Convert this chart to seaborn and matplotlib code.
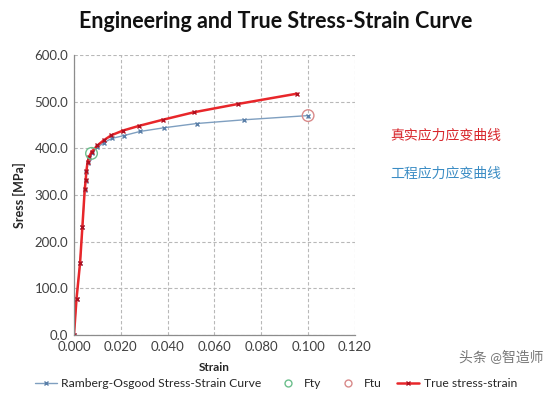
import numpy as np
import pandas as pd
import matplotlib
matplotlib.use('Agg')
import matplotlib.pyplot as plt
from matplotlib.lines import Line2D
import seaborn as sns

# DATA
eng_strain = [0.0, 0.0011, 0.0026, 0.0036, 0.0046, 0.0050, 0.0053, 0.0058, 0.0065, 0.0075,
              0.0100, 0.0128, 0.0161, 0.0212, 0.0282, 0.0386, 0.0524, 0.0727, 0.1000]
eng_stress = [0, 78, 154, 231, 311, 329, 349, 368, 380, 389,
              402, 412, 421, 427, 436, 444, 453, 461, 470]
true_strain = [0.0, 0.0011, 0.0026, 0.0036, 0.0046, 0.0050, 0.0053, 0.0058, 0.0065, 0.0075,
               0.0100, 0.0127, 0.0160, 0.0210, 0.0278, 0.0379, 0.0511, 0.0702, 0.0953]
true_stress = [0, 78, 154, 232, 312, 331, 351, 370, 382, 392,
               406, 417, 428, 438, 448, 461, 477, 495, 517]
fty = (0.0075, 389)
ftu = (0.1000, 470)
x_ticks = [0.0, 0.02, 0.04, 0.06, 0.08, 0.10, 0.12]
y_ticks = [0, 100, 200, 300, 400, 500, 600]

eng = pd.DataFrame({'strain': eng_strain, 'stress': eng_stress})
true = pd.DataFrame({'strain': true_strain, 'stress': true_stress})

sns.set_style('white')
plt.rcParams['font.family'] = ['Lato', 'Noto Sans CJK SC', 'DejaVu Sans']

fig = plt.figure(figsize=(5.52, 3.95), dpi=100)
ax = fig.add_axes([0.134, 0.152, 0.509, 0.709])

eng_col, eng_mk = '#7f9fc0', '#5a7fa8'
true_col, true_mk = '#e8262a', '#b01020'
fty_col, ftu_col = '#6cbf8c', '#d98a8a'

# engineering curve
sns.lineplot(data=eng, x='strain', y='stress', sort=False, ax=ax, color=eng_col, lw=1.0,
             marker='x', markersize=3.5, markeredgewidth=1.0, markeredgecolor=eng_mk)
# Fty / Ftu markers
ax.scatter([fty[0]], [fty[1]], s=70, facecolors='none', edgecolors=fty_col, linewidths=1.0, zorder=5)
ax.scatter([ftu[0]], [ftu[1]], s=70, facecolors='none', edgecolors=ftu_col, linewidths=1.0, zorder=5)
# true curve
sns.lineplot(data=true, x='strain', y='stress', sort=False, ax=ax, color=true_col, lw=1.8,
             marker='x', markersize=3.5, markeredgewidth=1.0, markeredgecolor=true_mk)

ax.set_xlim(0, 0.12)
ax.set_ylim(0, 600)
ax.set_xticks(x_ticks)
ax.set_yticks(y_ticks)
ax.set_xticklabels([f'{v:.3f}' for v in x_ticks], fontsize=9.5, color='#404040')
ax.set_yticklabels([f'{v:.1f}' for v in y_ticks], fontsize=9.5, color='#404040')
ax.tick_params(length=0, pad=4)
ax.grid(True, ls=(0, (3, 2)), color='#b8b8b8', lw=0.8)
for s in ['top', 'right']:
    ax.spines[s].set_visible(False)
for s in ['left', 'bottom']:
    ax.spines[s].set_color('#8c8c8c')
    ax.spines[s].set_linewidth(0.9)
ax.set_xlabel('Strain', fontsize=8.5, fontweight='bold', labelpad=7)
ax.set_ylabel('Sress [MPa]', fontsize=9, fontweight='bold', labelpad=6)

fig.text(0.5, 0.945, 'Engineering and True Stress-Strain Curve', ha='center', va='center',
         fontsize=15.5, fontweight='bold', color='#111111')

# legend along the bottom
handles = [
    Line2D([], [], color=eng_col, lw=1.0, marker='x', markersize=3, markeredgecolor=eng_mk),
    Line2D([], [], ls='none', marker='o', markersize=5, markerfacecolor='none', markeredgecolor=fty_col),
    Line2D([], [], ls='none', marker='o', markersize=5, markerfacecolor='none', markeredgecolor=ftu_col),
    Line2D([], [], color=true_col, lw=1.8, marker='x', markersize=3, markeredgecolor=true_mk),
]
labels = ['Ramberg-Osgood Stress-Strain Curve', 'Fty', 'Ftu', 'True stress-strain']
fig.legend(handles, labels, loc='lower center', bbox_to_anchor=(0.5, -0.012), ncol=4,
           frameon=False, fontsize=8.7, handlelength=1.8, columnspacing=1.3, handletextpad=0.4)

fig.text(0.707, 0.658, '真实应力应变曲线', fontsize=10, color='#d8262c', va='center')
fig.text(0.707, 0.562, '工程应力应变曲线', fontsize=10, color='#3a8cc4', va='center')
fig.text(0.985, 0.095, '头条 @智造师', fontsize=10, color='#555555', ha='right', va='center', alpha=0.8)

fig.savefig('out.png', dpi=100)
